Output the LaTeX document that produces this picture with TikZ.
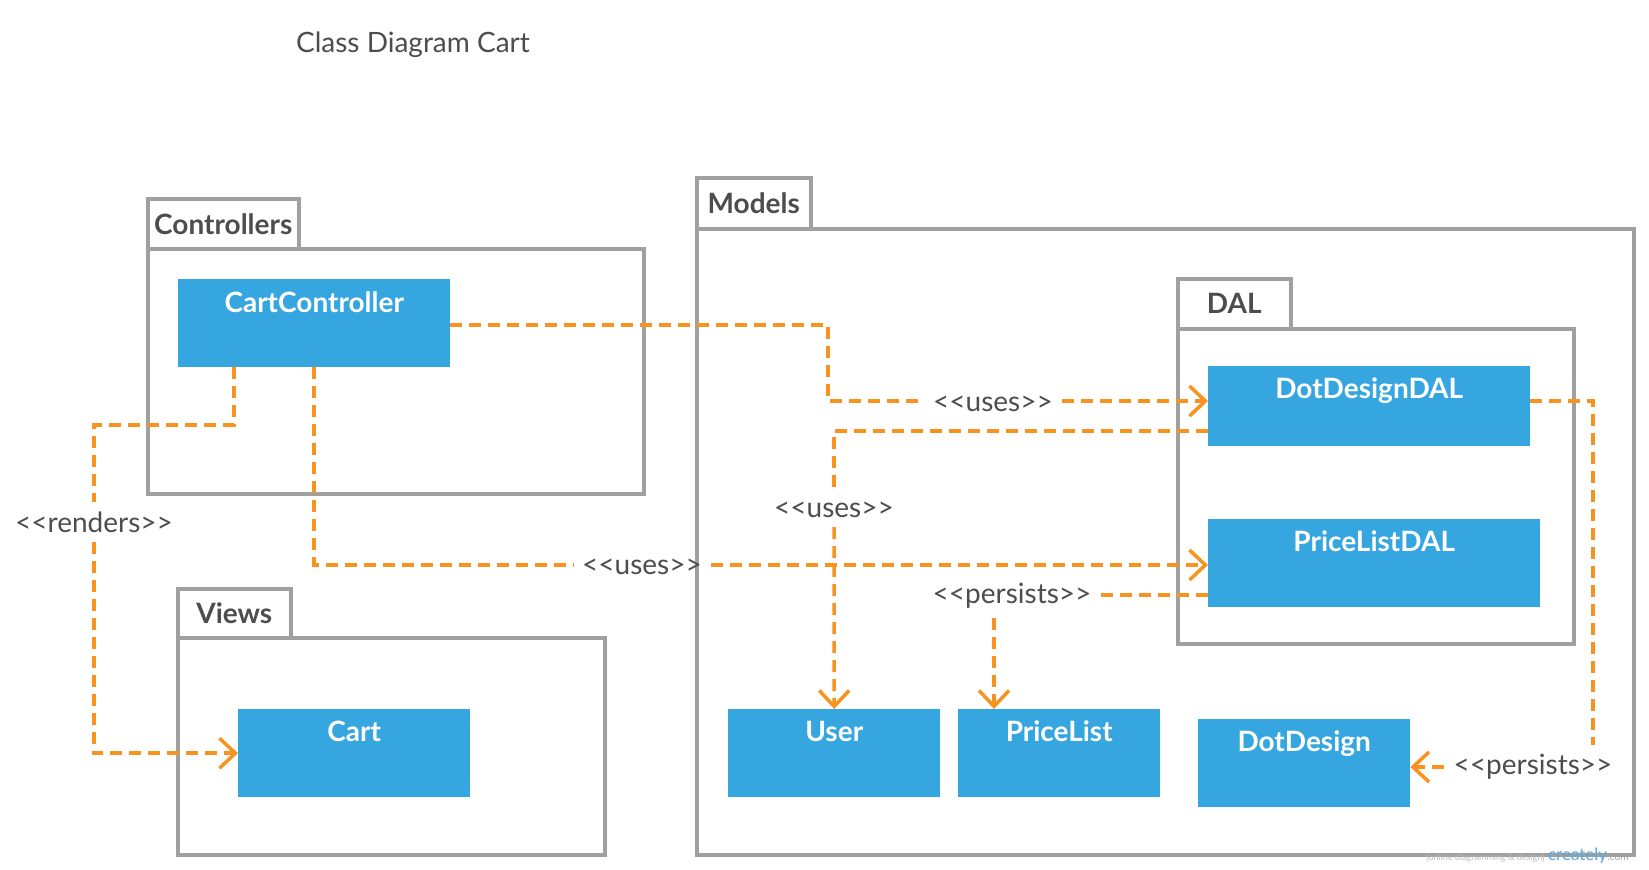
\documentclass[tikz,border=0pt]{standalone}
\usepackage{fontspec}
\setmainfont{Lato}
\usetikzlibrary{arrows.meta,calc}
\definecolor{depOrange}{HTML}{F7931E}
\definecolor{clsBlue}{HTML}{36A6E0}
\definecolor{pkgGray}{HTML}{A0A0A0}
\definecolor{txtGray}{HTML}{4D4D4D}
\definecolor{wmBlue}{HTML}{5AA9DC}
\begin{document}
\begin{tikzpicture}[x=1pt,y=-1pt,
  pkgbox/.style={draw=pkgGray,line width=3.5pt,anchor=north west,inner sep=0pt},
  pkgtab/.style={pkgbox,font=\fontsize{28}{32}\selectfont\bfseries,text=txtGray},
  clsbox/.style={fill=clsBlue,anchor=north west,inner sep=0pt},
  clsname/.style={anchor=base,text=white,font=\fontsize{28}{32}\selectfont\bfseries},
  deplink/.style={draw=depOrange,line width=3.5pt,dash pattern=on 12pt off 7pt},
  deparrow/.style={deplink,-{Straight Barb[length=16pt,width=30pt]}},
  lbl/.style={text=txtGray,font=\fontsize{28}{32}\selectfont,inner sep=9pt}]
\fill[white] (0,0) rectangle (1649,870);
\useasboundingbox (0,0) rectangle (1649,870);

% title
\node[text=txtGray,font=\fontsize{28}{32}\selectfont] (title) at (413,45) {Class Diagram Cart};

% packages
\node[pkgtab,minimum width=151pt,minimum height=50pt] (ctrlTab) at (146,197) {Controllers};
\node[pkgbox,minimum width=496pt,minimum height=245pt] (ctrlBody) at (146,247) {};
\node[pkgtab,minimum width=113pt,minimum height=49pt] (viewTab) at (176,587) {Views};
\node[pkgbox,minimum width=427pt,minimum height=217pt] (viewBody) at (176,636) {};
\node[pkgtab,minimum width=114pt,minimum height=51pt] (modTab) at (695,176) {Models};
\node[pkgbox,minimum width=937pt,minimum height=626pt] (modBody) at (695,227) {};
\node[pkgtab,minimum width=113pt,minimum height=50pt] (dalTab) at (1176,277) {DAL};
\node[pkgbox,minimum width=396pt,minimum height=315pt] (dalBody) at (1176,327) {};

% classes
\node[clsbox,minimum width=272pt,minimum height=88pt] (cc) at (178,279) {};
\node[clsname] at ($(cc.north)+(0,33)$) {CartController};
\node[clsbox,minimum width=232pt,minimum height=88pt] (cart) at (238,709) {};
\node[clsname] at ($(cart.north)+(0,32)$) {Cart};
\node[clsbox,minimum width=322pt,minimum height=80pt] (dddal) at (1208,366) {};
\node[clsname] at ($(dddal.north)+(0,32)$) {DotDesignDAL};
\node[clsbox,minimum width=332pt,minimum height=88pt] (pldal) at (1208,519) {};
\node[clsname] at ($(pldal.north)+(0,32)$) {PriceListDAL};
\node[clsbox,minimum width=212pt,minimum height=88pt] (user) at (728,709) {};
\node[clsname] at ($(user.north)+(0,32)$) {User};
\node[clsbox,minimum width=202pt,minimum height=88pt] (plist) at (958,709) {};
\node[clsname] at ($(plist.north)+(0,32)$) {PriceList};
\node[clsbox,minimum width=212pt,minimum height=88pt] (dd) at (1198,719) {};
\node[clsname] at ($(dd.north)+(0,32)$) {DotDesign};

% labels
\node[lbl] (lUses1) at (993,404) {<{}<uses>{}>};
\node[lbl] (lUses2) at (834,510) {<{}<uses>{}>};
\node[lbl] (lUses3) at (642,567) {<{}<uses>{}>};
\node[lbl] (lRend) at (94,522) {<{}<renders>{}>};
\node[lbl] (lPers1) at (1012,596) {<{}<persists>{}>};
\node[lbl] (lPers2) at (1533,767) {<{}<persists>{}>};

% connectors
\draw[deplink] (cc.east |- 0,325) -| (828,401) -- (lUses1.west |- 0,401);
\draw[deparrow] (lUses1.east |- 0,401) -- (dddal.west |- 0,401);

\draw[deplink] (dddal.west |- 0,431) -| (lUses2.north);
\draw[deparrow] (lUses2.south) -- (user.north);

\draw[deplink] (cc.south) |- (lUses3.west |- 0,565);
\draw[deparrow] (lUses3.east |- 0,565) -- (pldal.west |- 0,565);

\draw[deplink] (cc.south -| 234,0) |- (94,425) -- (lRend.north -| 94,0);
\draw[deparrow] (lRend.south -| 94,0) |- (cart.west);

\draw[deplink] (pldal.west |- 0,595) -- (lPers1.east |- 0,595);
\draw[deparrow] (lPers1.south -| 994,0) -- (plist.north -| 994,0);

\draw[deplink] (dddal.east |- 0,401) -| (lPers2.north -| 1593,0);
\draw[deparrow] (lPers2.west) -- (dd.east |- lPers2.west);

% watermark
\node[anchor=base east,text=pkgGray!70,font=\fontsize{9}{10}\selectfont,inner sep=0pt] (wm1) at (1545,860) {[online diagramming \& design]};
\node[anchor=base west,text=wmBlue,font=\fontsize{17}{18}\selectfont,inner sep=0pt] (wm2) at (wm1.base east) {\,creately};
\node[anchor=base west,text=pkgGray,font=\fontsize{10}{11}\selectfont,inner sep=0pt] (wm3) at (wm2.base east) {.com};
\end{tikzpicture}
\end{document}
